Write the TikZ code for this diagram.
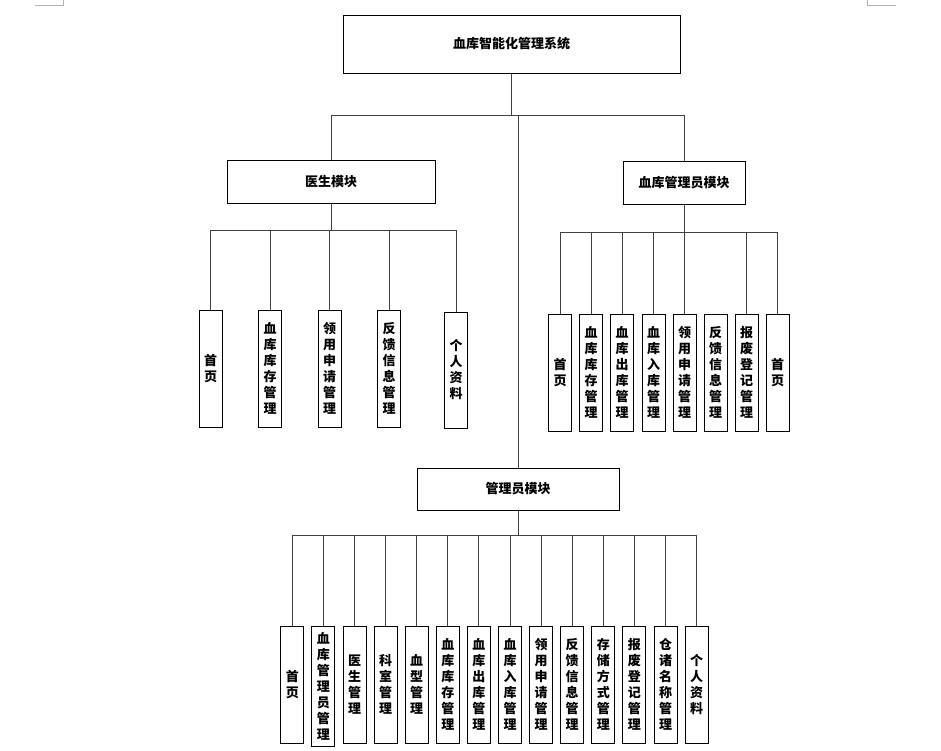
\documentclass[tikz,border=0pt]{standalone}
\usepackage{fontspec}
\newfontfamily\cjk{Noto Sans CJK SC}
\begin{document}
\begin{tikzpicture}[x=1pt,y=-1pt,
  every node/.style={font=\cjk\bfseries\fontsize{13}{16}\selectfont},
  hbox/.style={draw=black,line width=1pt,inner sep=0pt,align=center},
  vbox/.style={draw=black,line width=1pt,inner sep=0pt,align=center,minimum width=23pt,minimum height=117pt},
  conn/.style={draw=black!75,line width=1pt},
  cornermark/.style={draw=black!30,line width=0.8pt}]
\useasboundingbox (0,0) rectangle (941,750);
\fill[white] (0,0) rectangle (941,750);
% corner marks
\coordinate (m1) at (35,5);
\coordinate (m2) at (63,0);
\coordinate (m3) at (867,0);
\coordinate (m4) at (896,5);
\draw[cornermark] (m1) -| (m2);
\draw[cornermark] (m3) |- (m4);
% main boxes
\node[hbox,minimum width=337pt,minimum height=58pt] (top) at (511.5,44) {血库智能化管理系统};
\node[hbox,minimum width=208pt,minimum height=43pt] (doc) at (331,181.5) {医生模块};
\node[hbox,minimum width=122pt,minimum height=43pt] (bk) at (684,182.5) {血库管理员模块};
\node[hbox,minimum width=202pt,minimum height=42pt] (adm) at (518,489) {管理员模块};
\coordinate (h1) at (511.5,115);
\draw[conn] (top.south) -- (h1);
\draw[conn] (doc.north) |- (h1);
\draw[conn] (bk.north) |- (h1);
\draw[conn] (adm.north) -- (adm.north |- h1);
% doctor children
\coordinate (dbus) at (331,230.5);
\draw[conn] (doc.south) -- (dbus);
\node[vbox] (d1) at (210.5,368.5) {首\\页};
\node[vbox] (d2) at (270,368.5) {血\\库\\库\\存\\管\\理};
\node[vbox] (d3) at (329.5,368.5) {领\\用\\申\\请\\管\\理};
\node[vbox] (d4) at (389,368.5) {反\\馈\\信\\息\\管\\理};
\node[vbox,minimum height=116pt] (d5) at (456,370) {个\\人\\资\\料};
\foreach \n in {d1,d2,d3,d4,d5} \draw[conn] (\n.north) |- (dbus);
% blood bank admin children
\coordinate (bbus) at (684,232.7);
\draw[conn] (bk.south) -- (bbus);
\node[vbox] (b1) at (560,372.5) {首\\页};
\node[vbox] (b2) at (591,372.5) {血\\库\\库\\存\\管\\理};
\node[vbox] (b3) at (622,372.5) {血\\库\\出\\库\\管\\理};
\node[vbox] (b4) at (653.5,372.5) {血\\库\\入\\库\\管\\理};
\node[vbox] (b5) at (684.5,372.5) {领\\用\\申\\请\\管\\理};
\node[vbox] (b6) at (715.5,372.5) {反\\馈\\信\\息\\管\\理};
\node[vbox] (b7) at (746.5,372.5) {报\\废\\登\\记\\管\\理};
\node[vbox] (b8) at (777.5,372.5) {首\\页};
\foreach \n in {b1,b2,b3,b4,b5,b7,b8} \draw[conn] (\n.north) |- (bbus);
% admin children
\coordinate (abus) at (518,535.7);
\draw[conn] (adm.south) -- (abus);
\node[vbox] (a1) at (292.3,684.5) {首\\页};
\node[vbox,minimum height=120pt] (a2) at (323.4,686) {血\\库\\管\\理\\员\\管\\理};
\node[vbox] (a3) at (354.5,684.5) {医\\生\\管\\理};
\node[vbox] (a4) at (385.6,684.5) {科\\室\\管\\理};
\node[vbox] (a5) at (416.7,684.5) {血\\型\\管\\理};
\node[vbox] (a6) at (447.8,684.5) {血\\库\\库\\存\\管\\理};
\node[vbox] (a7) at (478.9,684.5) {血\\库\\出\\库\\管\\理};
\node[vbox] (a8) at (510,684.5) {血\\库\\入\\库\\管\\理};
\node[vbox] (a9) at (541.1,684.5) {领\\用\\申\\请\\管\\理};
\node[vbox] (a10) at (572.2,684.5) {反\\馈\\信\\息\\管\\理};
\node[vbox] (a11) at (603.3,684.5) {存\\储\\方\\式\\管\\理};
\node[vbox] (a12) at (634.4,684.5) {报\\废\\登\\记\\管\\理};
\node[vbox] (a13) at (665.5,684.5) {仓\\诸\\名\\称\\管\\理};
\node[vbox] (a14) at (696.6,684.5) {个\\人\\资\\料};
\foreach \n in {a1,a2,a3,a4,a5,a6,a7,a8,a9,a10,a11,a12,a13,a14} \draw[conn] (\n.north) |- (abus);
\end{tikzpicture}
\end{document}
